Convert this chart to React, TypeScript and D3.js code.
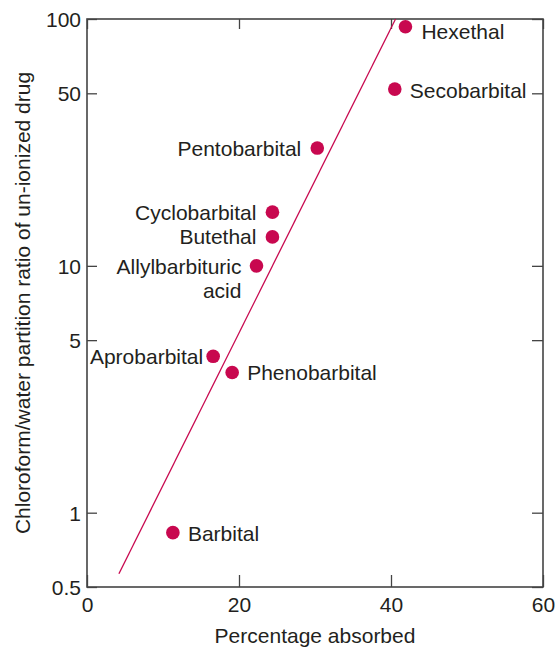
import * as d3 from 'd3';
import React, { useEffect, useRef } from 'react';

// drugs, percentage absorbed, chloroform/water partition ratio
const drugs = ['Hexethal', 'Secobarbital', 'Pentobarbital', 'Cyclobarbital', 'Butethal', 'Allylbarbituric acid', 'Aprobarbital', 'Phenobarbital', 'Barbital'];
const absorbed = [41.9, 40.5, 30.3, 24.4, 24.4, 22.3, 16.6, 19.1, 11.3];
const partition = [93, 52, 30, 16.5, 13.1, 10.0, 4.3, 3.7, 0.83];

// fitted line endpoints
const fitAbsorbed = [4.2, 40.6];
const fitPartition = [0.566, 100];

const xTicks = [0, 20, 40, 60];
const yTicks = [0.5, 1, 5, 10, 50, 100];

// label placement: side of the dot, pixel offsets
const labelPlacement = [
	{ anchor: 'start', dx: 16, dy: 12 },
	{ anchor: 'start', dx: 15, dy: 9 },
	{ anchor: 'end', dx: -16, dy: 8 },
	{ anchor: 'end', dx: -16, dy: 8 },
	{ anchor: 'end', dx: -16, dy: 7 },
	{ anchor: 'end', dx: -15, dy: 8 },
	{ anchor: 'end', dx: -10, dy: 8 },
	{ anchor: 'start', dx: 15, dy: 8 },
	{ anchor: 'start', dx: 15, dy: 8 },
];

const RED = '#c8084f';
const INK = '#231f20';
const FONT = '"Liberation Sans", Arial, Helvetica, sans-serif';

export default function App(): React.JSX.Element {
	const ref = useRef<SVGSVGElement | null>(null);

	useEffect(() => {
		if (ref.current === null) return;
		const root = d3.select(ref.current);
		root.selectAll('*').remove();

		const width = 560;
		const height = 648;
		const margin = { top: 19, right: 17, bottom: 61, left: 87 };
		const x = d3.scaleLinear().domain([0, 60]).range([margin.left, width - margin.right]);
		const y = d3.scaleLog().domain([0.5, 100]).range([height - margin.bottom, margin.top]);

		const svg = root.attr('width', width).attr('height', height)
			.style('font-family', FONT);

		const tickLabel = (d: d3.NumberValue) => String(d);

		const styleAxis = (g: d3.Selection<SVGGElement, unknown, null, undefined>) => {
			g.select('.domain').remove();
			g.selectAll('line').attr('stroke', '#444').attr('stroke-width', 1.3);
			g.selectAll('text').attr('fill', INK).style('font-size', '21px').style('font-family', FONT);
		};

		svg.append('g')
			.attr('transform', `translate(${margin.left},0)`)
			.call(d3.axisLeft(y).tickValues(yTicks).tickFormat(tickLabel).tickSizeInner(-10).tickSizeOuter(0).tickPadding(6))
			.call(styleAxis)
			.selectAll('text').attr('dy', '0.36em');

		svg.append('g')
			.attr('transform', `translate(${width - margin.right},0)`)
			.call(d3.axisRight(y).tickValues(yTicks).tickFormat(() => '').tickSizeInner(-11).tickSizeOuter(0))
			.call(styleAxis);

		svg.append('g')
			.attr('transform', `translate(0,${height - margin.bottom})`)
			.call(d3.axisBottom(x).tickValues(xTicks).tickFormat(tickLabel).tickSizeInner(-12).tickSizeOuter(0).tickPadding(10))
			.call(styleAxis);

		svg.append('g')
			.attr('transform', `translate(0,${margin.top})`)
			.call(d3.axisTop(x).tickValues(xTicks).tickFormat(() => '').tickSizeInner(-10).tickSizeOuter(0))
			.call(styleAxis);

		svg.append('rect')
			.attr('x', margin.left)
			.attr('y', margin.top)
			.attr('width', width - margin.left - margin.right)
			.attr('height', height - margin.top - margin.bottom)
			.attr('fill', 'none')
			.attr('stroke', '#444')
			.attr('stroke-width', 1.6);

		const fit = fitAbsorbed.map((a, i) => [x(a), y(fitPartition[i])] as [number, number]);
		svg.append('path')
			.attr('d', d3.line()(fit))
			.attr('fill', 'none')
			.attr('stroke', RED)
			.attr('stroke-width', 1.3);

		svg.selectAll('circle.drug')
			.data(drugs)
			.enter()
			.append('circle')
			.attr('class', 'drug')
			.attr('cx', (_, i) => x(absorbed[i]))
			.attr('cy', (_, i) => y(partition[i]))
			.attr('r', 6.8)
			.attr('fill', RED);

		const labels = svg.selectAll('text.drug')
			.data(drugs)
			.enter()
			.append('text')
			.attr('class', 'drug')
			.attr('x', (_, i) => x(absorbed[i]) + labelPlacement[i].dx)
			.attr('y', (_, i) => y(partition[i]) + labelPlacement[i].dy)
			.attr('text-anchor', (_, i) => labelPlacement[i].anchor)
			.attr('fill', INK)
			.style('font-size', '21px');

		labels.each(function (d, i) {
			const words = d === 'Allylbarbituric acid' ? ['Allylbarbituric', 'acid'] : [d];
			const t = d3.select(this);
			words.forEach((w, k) => {
				t.append('tspan')
					.attr('x', x(absorbed[i]) + labelPlacement[i].dx)
					.attr('dy', k === 0 ? 0 : 24.5)
					.text(w);
			});
		});

		svg.append('text')
			.attr('x', (margin.left + width - margin.right) / 2)
			.attr('y', 643)
			.attr('text-anchor', 'middle')
			.attr('fill', INK)
			.style('font-size', '21px')
			.text('Percentage absorbed');

		svg.append('text')
			.attr('transform', `translate(30,${(margin.top + height - margin.bottom) / 2}) rotate(-90)`)
			.attr('text-anchor', 'middle')
			.attr('fill', INK)
			.style('font-size', '21px')
			.text('Chloroform/water partition ratio of un-ionized drug');
	}, []);

	return (
		<svg ref={ref} style={{ position: 'absolute', left: 0, top: 0, background: '#fff' }} />
	);
}
